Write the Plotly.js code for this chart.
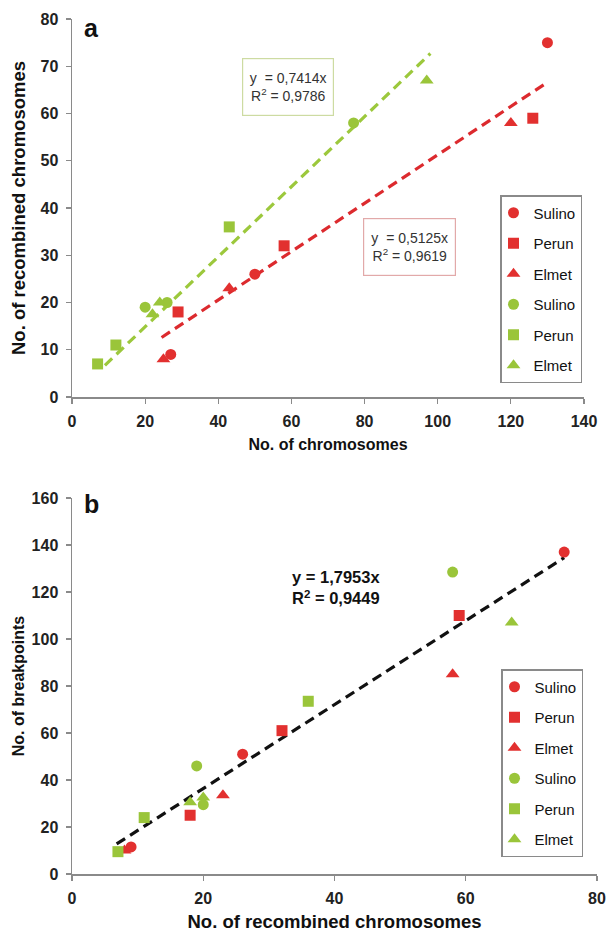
<!DOCTYPE html>
<html>
<head>
<meta charset="utf-8">
<script src="https://cdn.plot.ly/plotly-3.0.1.min.js"></script>
<style>html,body{margin:0;padding:0;background:#fff;}#chart{width:608px;height:932px;}</style>
</head>
<body>
<div id="chart"></div>
<script>
// ---------- Panel a: No. of chromosomes vs No. of recombined chromosomes ----------
const seriesNames = ["Sulino", "Perun", "Elmet"];

const redSulinoA_x = [130, 50, 27];
const redSulinoA_y = [75, 26, 9];
const redPerunA_x = [126, 58, 29];
const redPerunA_y = [59, 32, 18];
const redElmetA_x = [120, 43, 25];
const redElmetA_y = [58, 23, 8];

const greenSulinoA_x = [77, 20, 26];
const greenSulinoA_y = [58, 19, 20];
const greenPerunA_x = [43, 12, 7];
const greenPerunA_y = [36, 11, 7];
const greenElmetA_x = [97, 22, 24];
const greenElmetA_y = [67, 17.5, 20];

// trend line end points
const greenTrendA_x = [9, 98];
const greenTrendA_y = [6.7, 72.7];
const redTrendA_x = [24.5, 129];
const redTrendA_y = [12.6, 66.1];

const greenEqA = "y  = 0,7414x<br>R<sup>2</sup> = 0,9786";
const redEqA = "y  = 0,5125x<br>R<sup>2</sup> = 0,9619";

// ---------- Panel b: No. of recombined chromosomes vs No. of breakpoints ----------
const redSulinoB_x = [75, 26, 9];
const redSulinoB_y = [137, 51, 11.5];
const redPerunB_x = [59, 32, 18];
const redPerunB_y = [110, 61, 25];
const redElmetB_x = [58, 23, 8];
const redElmetB_y = [85, 33.5, 10];

const greenSulinoB_x = [58, 19, 20];
const greenSulinoB_y = [128.5, 46, 29.5];
const greenPerunB_x = [36, 11, 7];
const greenPerunB_y = [73.5, 24, 9.5];
const greenElmetB_x = [67, 18, 20];
const greenElmetB_y = [107, 30.5, 32.5];

const blackTrendB_x = [6.8, 75];
const blackTrendB_y = [12.8, 134.6];
const eqB = "y = 1,7953x<br>R<sup>2</sup> = 0,9449";

const RED = "#e2302f";
const GREEN = "#9ac53a";
const RED_LINE = "#dc2a2e";
const GREEN_LINE = "#9cc83c";

const W = 608, H = 932;
const px = v => v / W;
const py = v => 1 - v / H;

const symbols = ["circle", "square", "triangle-up"];
const sizes = [11, 11, 12];

function pts(x, y, color, k, xa, ya, leg) {
  return {
    type: "scatter", mode: "markers", x: x, y: y, name: seriesNames[k],
    xaxis: xa, yaxis: ya, legend: leg,
    legendgroup: leg + color + k,
    marker: {color: color, symbol: symbols[k], size: sizes[k], line: {width: 0}},
    cliponaxis: false
  };
}
function trend(x, y, color, xa, ya) {
  return {
    type: "scatter", mode: "lines", x: x, y: y, xaxis: xa, yaxis: ya,
    showlegend: false, hoverinfo: "skip",
    line: {color: color, width: 3.2, dash: "10px,6px"}
  };
}

const data = [
  trend(greenTrendA_x, greenTrendA_y, GREEN_LINE, "x", "y"),
  trend(redTrendA_x, redTrendA_y, RED_LINE, "x", "y"),
  pts(redSulinoA_x, redSulinoA_y, RED, 0, "x", "y", "legend"),
  pts(redPerunA_x, redPerunA_y, RED, 1, "x", "y", "legend"),
  pts(redElmetA_x, redElmetA_y, RED, 2, "x", "y", "legend"),
  pts(greenSulinoA_x, greenSulinoA_y, GREEN, 0, "x", "y", "legend"),
  pts(greenPerunA_x, greenPerunA_y, GREEN, 1, "x", "y", "legend"),
  pts(greenElmetA_x, greenElmetA_y, GREEN, 2, "x", "y", "legend"),

  trend(blackTrendB_x, blackTrendB_y, "#111111", "x2", "y2"),
  pts(redSulinoB_x, redSulinoB_y, RED, 0, "x2", "y2", "legend2"),
  pts(redPerunB_x, redPerunB_y, RED, 1, "x2", "y2", "legend2"),
  pts(redElmetB_x, redElmetB_y, RED, 2, "x2", "y2", "legend2"),
  pts(greenSulinoB_x, greenSulinoB_y, GREEN, 0, "x2", "y2", "legend2"),
  pts(greenPerunB_x, greenPerunB_y, GREEN, 1, "x2", "y2", "legend2"),
  pts(greenElmetB_x, greenElmetB_y, GREEN, 2, "x2", "y2", "legend2")
];

const FONT = "Liberation Sans, Arial, sans-serif";
const tickFont = {family: FONT, size: 16, color: "#222", weight: "bold"};
const tf = s => ({family: FONT, size: s, color: "#111", weight: "bold"});

function axis(extra) {
  return Object.assign({
    showgrid: false, zeroline: false, showline: true, linecolor: "#8a8a8a", linewidth: 1.5,
    ticks: "outside", ticklen: 5, tickwidth: 1.2, tickcolor: "#8a8a8a",
    tickfont: tickFont, automargin: false, fixedrange: true, ticklabelstandoff: 4
  }, extra);
}

const legendBase = {
  bgcolor: "rgba(255,255,255,1)", bordercolor: "#8a8a8a", borderwidth: 1.5,
  font: {family: FONT, size: 15, color: "#111"},
  xanchor: "left", yanchor: "top", traceorder: "grouped", tracegroupgap: 8,
  itemwidth: 30, indentation: -8
};

const layout = {
  width: W, height: H,
  margin: {l: 0, r: 0, t: 0, b: 0},
  paper_bgcolor: "#fff", plot_bgcolor: "#fff",
  showlegend: true,
  xaxis: axis({domain: [px(72), px(584)], anchor: "y", range: [0, 140], dtick: 20,
    title: {text: "No. of chromosomes", font: tf(16), standoff: 10}}),
  yaxis: axis({domain: [py(397), py(19)], anchor: "x", range: [0, 80], dtick: 10,
    title: {text: "No. of recombined chromosomes", font: tf(18.5), standoff: 10}}),
  xaxis2: axis({domain: [px(72), px(597)], anchor: "y2", range: [0, 80], dtick: 20,
    title: {text: "No. of recombined chromosomes", font: tf(18.5), standoff: 10}}),
  yaxis2: axis({domain: [py(874), py(498)], anchor: "x2", range: [0, 160], dtick: 20,
    title: {text: "No. of breakpoints", font: tf(16), standoff: 3}}),
  legend: Object.assign({}, legendBase, {x: px(500), y: py(195)}),
  legend2: Object.assign({}, legendBase, {x: px(501), y: py(669)}),
  annotations: [
    {xref: "paper", yref: "paper", x: px(82), y: py(27.5), xanchor: "left", yanchor: "middle",
     text: "a", showarrow: false, font: {family: FONT, size: 25, color: "#111", weight: "bold"}},
    {xref: "paper", yref: "paper", x: px(82), y: py(504), xanchor: "left", yanchor: "middle",
     text: "b", showarrow: false, font: {family: FONT, size: 25, color: "#111", weight: "bold"}},
    {xref: "paper", yref: "paper", x: px(287.5), y: py(86.5), xanchor: "center", yanchor: "middle",
     text: greenEqA, showarrow: false, width: 88, height: 54, borderpad: 1,
     bordercolor: "#cddba2", borderwidth: 1.2, bgcolor: "#fff",
     font: {family: FONT, size: 14, color: "#333"}},
    {xref: "paper", yref: "paper", x: px(409), y: py(246.5), xanchor: "center", yanchor: "middle",
     text: redEqA, showarrow: false, width: 89, height: 54, borderpad: 1,
     bordercolor: "#e2a9a9", borderwidth: 1.2, bgcolor: "#fff",
     font: {family: FONT, size: 14, color: "#333"}},
    {xref: "paper", yref: "paper", x: px(290), y: py(587), xanchor: "left", yanchor: "middle",
     text: eqB, showarrow: false, align: "left",
     font: {family: FONT, size: 16.5, color: "#111", weight: "bold"}}
  ]
};

Plotly.newPlot("chart", data, layout, {staticPlot: true, displayModeBar: false});
</script>
</body>
</html>
